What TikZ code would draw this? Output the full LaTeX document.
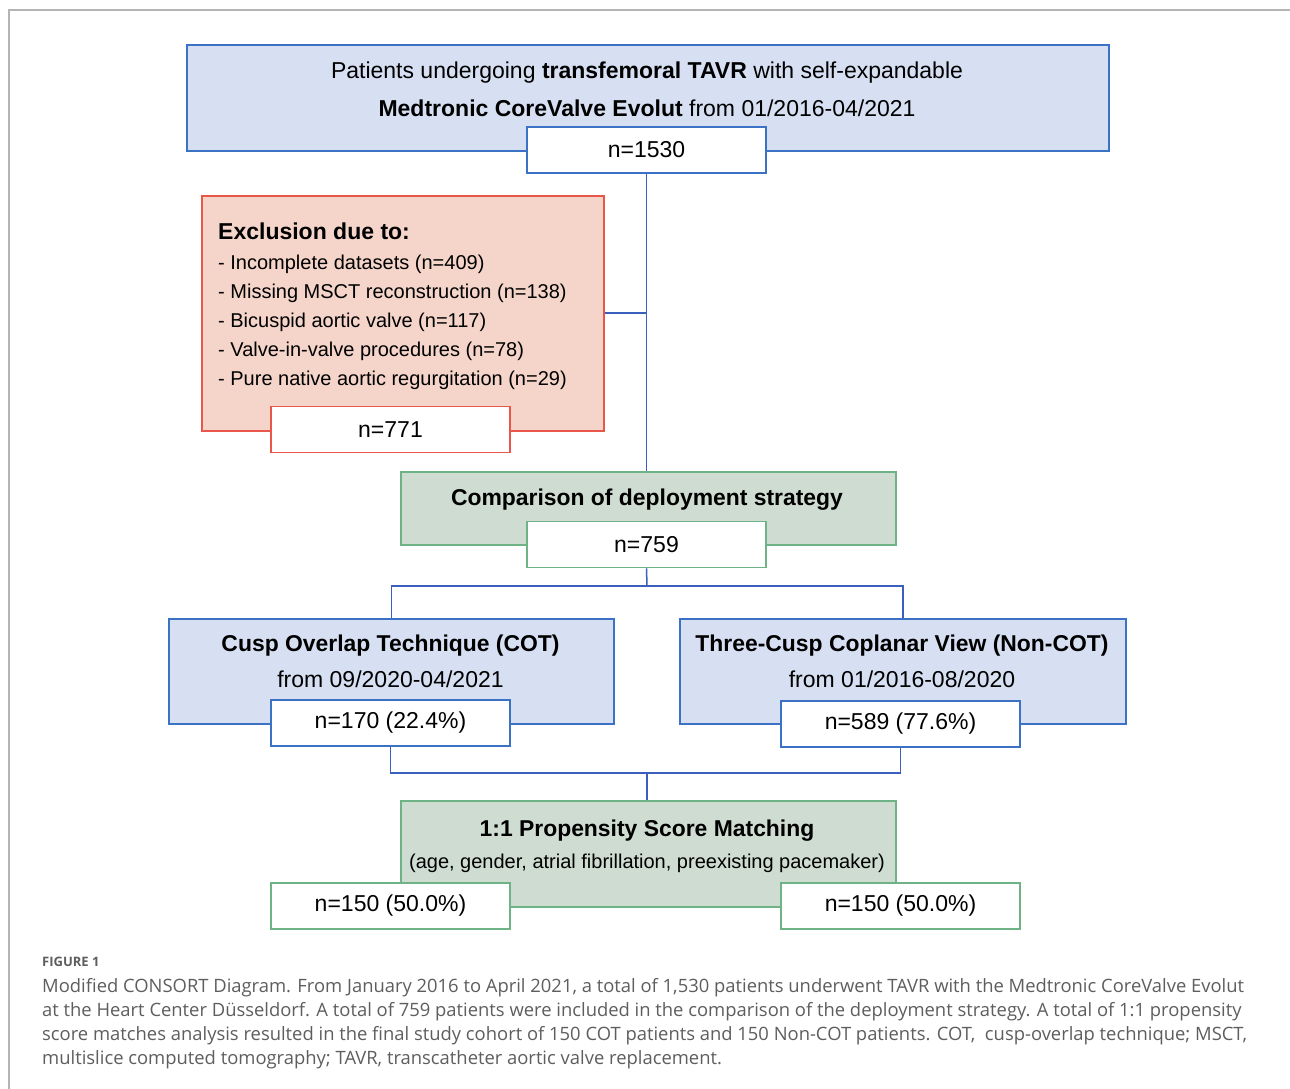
\documentclass[tikz,border=0pt]{standalone}
\usepackage{fontspec}
\setmainfont{Liberation Sans}
\newfontfamily\capfont{Open Sans}
\definecolor{bfill}{HTML}{D7E0F2}
\definecolor{bdraw}{HTML}{3C72C6}
\definecolor{rfill}{HTML}{F5D5CA}
\definecolor{rdraw}{HTML}{E8574A}
\definecolor{gfill}{HTML}{CFDCD2}
\definecolor{gdraw}{HTML}{6DB385}
\definecolor{cline}{HTML}{3A5FBD}
\definecolor{frame}{HTML}{B4B4B4}
\definecolor{captxt}{HTML}{5E5E5E}
\begin{document}
\begin{tikzpicture}[x=1pt,y=-1pt,
  box/.style={rectangle,inner sep=0pt,line width=1.6pt,anchor=north west},
  bluebox/.style={box,fill=bfill,draw=bdraw},
  redbox/.style={box,fill=rfill,draw=rdraw},
  greenbox/.style={box,fill=gfill,draw=gdraw},
  numbox/.style={rectangle,inner sep=0pt,line width=1.6pt,fill=white,minimum width=239pt,minimum height=46pt,font=\fontsize{23}{26}\selectfont},
  bluenum/.style={numbox,draw=bdraw},
  rednum/.style={numbox,draw=rdraw},
  greennum/.style={numbox,draw=gdraw},
  conn/.style={draw=cline,line width=1.5pt},
  txt/.style={inner sep=0pt,font=\fontsize{23}{26}\selectfont},
  btxt/.style={txt,font=\fontsize{22.9}{26}\selectfont\bfseries},
  item/.style={inner sep=0pt,anchor=west,font=\fontsize{20}{23}\selectfont},
  captxtstyle/.style={inner sep=0pt,anchor=west,text=captxt,font=\capfont\fontsize{18.4}{22}\selectfont}
]
\useasboundingbox (0,0) rectangle (1290,1089);
\fill[white] (0,0) rectangle (1290,1089);
% frame
\draw[frame,line width=1.3pt] (9,1089) -- (9,10) -- (1290,10);

% top box
\node[bluebox,minimum width=922pt,minimum height=106pt] (top) at (186,44) {};
\node[txt] (topl1) at (647,72.5) {Patients undergoing \textbf{transfemoral TAVR} with self-expandable};
\node[txt] (topl2) at (647,108.5) {\textbf{Medtronic CoreValve Evolut} from 01/2016-04/2021};
\node[bluenum] (n1530) at (646.5,150) {n=1530};

% exclusion
\node[redbox,minimum width=402pt,minimum height=235pt] (excl) at (201,195) {};
\node[item,font=\fontsize{23}{26}\selectfont\bfseries] (exh) at (218,231) {Exclusion due to:};
\node[item] (ex1) at (218,264) {- Incomplete datasets (n=409)};
\node[item] (ex2) at (218,293) {- Missing MSCT reconstruction (n=138)};
\node[item] (ex3) at (218,322) {- Bicuspid aortic valve (n=117)};
\node[item] (ex4) at (218,351) {- Valve-in-valve procedures (n=78)};
\node[item] (ex5) at (218,380) {- Pure native aortic regurgitation (n=29)};
\node[rednum] (n771) at (390.5,429.5) {n=771};

% comparison
\node[greenbox,minimum width=495pt,minimum height=73pt] (comp) at (400,471) {};
\node[btxt] (compt) at (647,499.5) {Comparison of deployment strategy};
\node[greennum] (n759) at (646.5,544.5) {n=759};

% COT
\node[bluebox,minimum width=445pt,minimum height=105pt] (cot) at (168,618) {};
\node[btxt] (cott) at (390.5,645.5) {Cusp Overlap Technique (COT)};
\node[txt] (cotd) at (390.5,679.5) {from 09/2020-04/2021};
\node[bluenum] (n170) at (390.5,723) {n=170 (22.4\%)};

% Non-COT
\node[bluebox,minimum width=446pt,minimum height=105pt] (ncot) at (679,618) {};
\node[btxt] (ncott) at (902,645.5) {Three-Cusp Coplanar View (Non-COT)};
\node[txt] (ncotd) at (902,679.5) {from 01/2016-08/2020};
\node[bluenum] (n589) at (900.5,724) {n=589 (77.6\%)};

% PSM
\node[greenbox,minimum width=495pt,minimum height=106pt] (psm) at (400,800) {};
\node[btxt] (psmt) at (647,830.5) {1:1 Propensity Score Matching};
\node[txt,font=\fontsize{20}{23}\selectfont] (psmd) at (647,863.5) {(age, gender, atrial fibrillation, preexisting pacemaker)};
\node[greennum] (n150a) at (390.5,906) {n=150 (50.0\%)};
\node[greennum] (n150b) at (900.5,906) {n=150 (50.0\%)};

% connectors
\coordinate (jexcl) at (647,313);
\draw[conn] (n1530.south) -- (comp.north -| n1530.south);
\draw[conn] (excl.east |- jexcl) -- (jexcl);
\coordinate (split) at (647,586);
\draw[conn] (n759.south) -- (split);
\draw[conn] (cot.north) -- (cot.north |- split) -- (ncot.north |- split) -- (ncot.north);
\coordinate (merge) at (647,773);
\draw[conn] (n170.south) -- (n170.south |- merge) -- (n589.south |- merge) -- (n589.south);
\draw[conn] (merge) -- (psm.north -| merge);

% caption
\node[inner sep=0pt,anchor=west,text=captxt,font=\capfont\fontsize{13}{15}\selectfont\bfseries] (figlab) at (42,962) {FIGURE 1};
\node[captxtstyle] (c1) at (42,988) {Modified CONSORT Diagram. From January 2016 to April 2021, a total of 1,530 patients underwent TAVR with the Medtronic CoreValve Evolut};
\node[captxtstyle] (c2) at (42,1012) {at the Heart Center Düsseldorf. A total of 759 patients were included in the comparison of the deployment strategy. A total of 1:1 propensity};
\node[captxtstyle] (c3) at (42,1036) {score matches analysis resulted in the final study cohort of 150 COT patients and 150 Non-COT patients. COT,\ \ cusp-overlap technique; MSCT,};
\node[captxtstyle] (c4) at (42,1060) {multislice computed tomography; TAVR, transcatheter aortic valve replacement.};
\end{tikzpicture}
\end{document}
